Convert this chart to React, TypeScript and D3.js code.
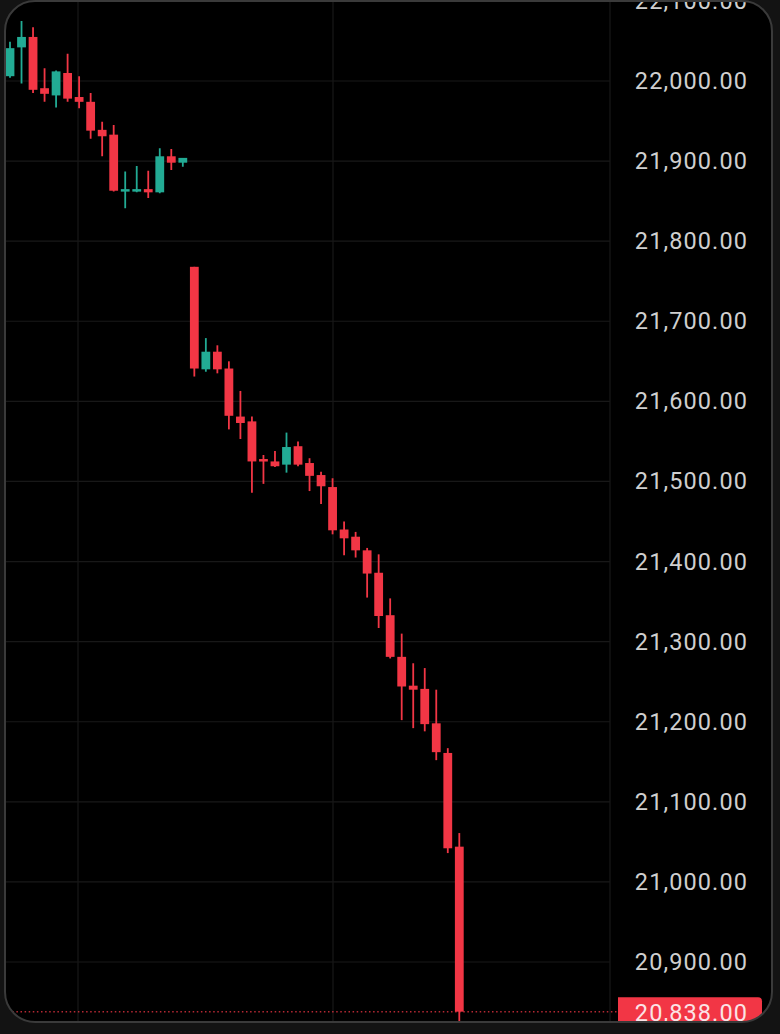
import React from "react";
import * as d3 from "d3";

const W = 780;
const H = 1034;

const opens = [22006, 22042, 22055, 21991, 21982, 22010, 21980, 21974, 21939, 21933, 21864, 21864, 21865, 21861, 21906, 21898, 21768, 21640, 21662, 21641, 21581, 21575, 21528, 21525, 21521, 21544, 21523, 21508, 21493, 21440, 21431, 21414, 21386, 21333, 21281, 21245, 21241, 21198, 21161, 21044];
const highs = [22049, 22075, 22067, 22016, 22013, 22034, 22006, 21985, 21949, 21945, 21887, 21894, 21888, 21916, 21915, 21904, 21768, 21679, 21670, 21650, 21613, 21581, 21533, 21538, 21561, 21550, 21529, 21512, 21504, 21450, 21437, 21417, 21409, 21354, 21310, 21273, 21267, 21240, 21167, 21061];
const lows = [22004, 21997, 21985, 21974, 21967, 21974, 21966, 21928, 21906, 21862, 21841, 21861, 21854, 21860, 21889, 21893, 21631, 21637, 21635, 21565, 21553, 21486, 21497, 21518, 21511, 21519, 21488, 21472, 21434, 21408, 21405, 21355, 21317, 21279, 21202, 21192, 21188, 21152, 21036, 20824];
const closes = [22041, 22055, 21989, 21984, 22012, 21978, 21974, 21938, 21931, 21863, 21865, 21865, 21861, 21906, 21898, 21904, 21641, 21662, 21640, 21582, 21573, 21525, 21526, 21519, 21543, 21521, 21507, 21494, 21439, 21429, 21414, 21385, 21332, 21281, 21244, 21240, 21197, 21162, 21042, 20838];

const tickValues = [22100, 22000, 21900, 21800, 21700, 21600, 21500, 21400, 21300, 21200, 21100, 21000, 20900];
const verticalGrid = [78, 333, 610];
const lastPrice = 20838;

const RED = "#f23645";
const GREEN = "#22ab94";

export default function App() {
  const y = d3.scaleLinear().domain([20900, 22000]).range([962, 81]);
  const x = d3.scaleLinear().domain([0, opens.length - 1]).range([10, 459.3]);
  const fmt = d3.format(",.2f");
  const bodyW = 8.8;

  return (
    <svg
      width={W}
      height={H}
      style={{ position: "absolute", left: 0, top: 0, background: "#000" }}
    >
      <defs>
        <clipPath id="frame">
          <rect x={5} y={1} width={767} height={1021} rx={30} ry={30} />
        </clipPath>
      </defs>
      <rect x={0} y={0} width={W} height={H} fill="#131313" />
      <rect x={5} y={1} width={767} height={1021} rx={30} ry={30} fill="#000" />
      <g clipPath="url(#frame)">
        {tickValues.map((t) => (
          <line key={"h" + t} x1={0} x2={610} y1={y(t)} y2={y(t)} stroke="#181818" strokeWidth={1.2} />
        ))}
        {verticalGrid.map((v) => (
          <line key={"v" + v} x1={v} x2={v} y1={0} y2={1022} stroke="#181818" strokeWidth={1.2} />
        ))}
        <line
          x1={0}
          x2={618}
          y1={y(lastPrice)}
          y2={y(lastPrice)}
          stroke={RED}
          strokeWidth={1.5}
          strokeDasharray="1.5 2.6"
          opacity={0.75}
        />
        {opens.map((o, i) => {
          const c = closes[i];
          const up = c >= o;
          const col = up ? GREEN : RED;
          const top = y(Math.max(o, c));
          const bot = y(Math.min(o, c));
          const cx = x(i);
          return (
            <g key={i}>
              <line x1={cx} x2={cx} y1={y(highs[i])} y2={y(lows[i])} stroke={col} strokeWidth={1.8} />
              <rect x={cx - bodyW / 2} y={top} width={bodyW} height={Math.max(bot - top, 2.5)} fill={col} />
            </g>
          );
        })}
        {tickValues.map((t) => (
          <text
            key={"t" + t}
            x={748}
            y={y(t)}
            textAnchor="end"
            dominantBaseline="central"
            fill="#cfcfcf"
            fontFamily="Roboto, 'Noto Sans', sans-serif"
            fontSize={23.5}
            letterSpacing={1.1}
          >
            {fmt(t)}
          </text>
        ))}
        <path
          d={`M618,${y(lastPrice) - 14.5} H758 q4,0 4,4 V${y(lastPrice) + 6.5} q0,4 -4,4 H618 Z`}
          fill={RED}
        />
        <text
          x={748}
          y={y(lastPrice) + 1}
          textAnchor="end"
          dominantBaseline="central"
          fill="#fbe3e6"
          fontFamily="Roboto, 'Noto Sans', sans-serif"
          fontSize={23.5}
          letterSpacing={1.1}
        >
          {fmt(lastPrice)}
        </text>
      </g>
      <rect x={5} y={1} width={767} height={1021} rx={30} ry={30} fill="none" stroke="#3a3a3a" strokeWidth={2} />
    </svg>
  );
}
